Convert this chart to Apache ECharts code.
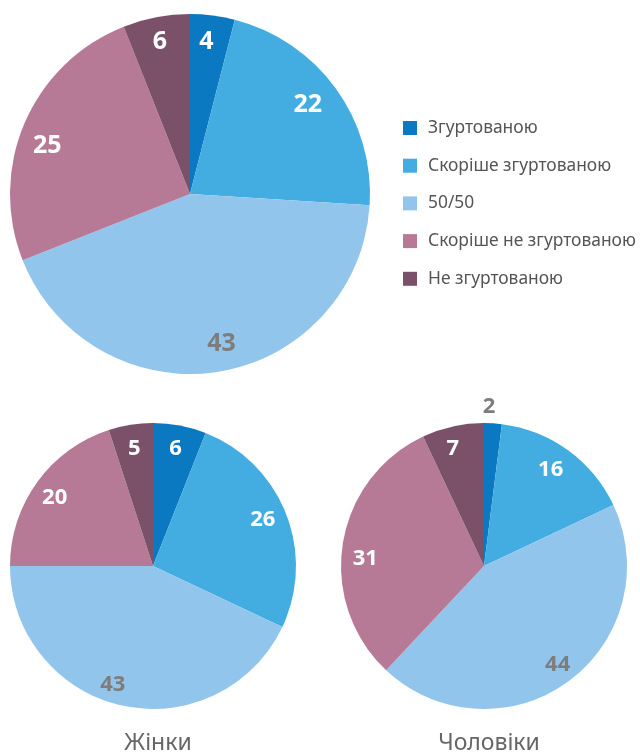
<!DOCTYPE html>
<html><head><meta charset="utf-8">
<script src="https://cdn.jsdelivr.net/npm/echarts@6/dist/echarts.min.js"></script>
<style>html,body{margin:0;padding:0;background:#fff}#c{width:640px;height:753px}</style>
</head><body><div id="c"></div>
<script>
const categories = ['Згуртованою', 'Скоріше згуртованою', '50/50', 'Скоріше не згуртованою', 'Не згуртованою'];
const totalValues = [4, 22, 43, 25, 6];
const womenValues = [6, 26, 43, 20, 5];
const menValues = [2, 16, 44, 31, 7];
const pieTitles = ['', 'Жінки', 'Чоловіки'];

const colors = ['#0a79c1', '#43ade2', '#92c5eb', '#b67a97', '#7b5069'];
const FONT = 'Noto Sans';
const GRAY = '#7d7d7d';

// label nudges (pixels) relative to the slice's mid-angle point at 0.82 r
const pies = [
  { values: totalValues, center: [190, 194], r: 180, fontSize: 25,
    nudge: [[-2.5, -3], [-4, -0.5], [8, 1.5], [-4.5, 12], [-2, -4.5]],
    gray: [false, false, true, false, false] },
  { values: womenValues, center: [153, 566], r: 143, fontSize: 22,
    nudge: [[0, 0.5], [-2, -1.5], [-14, 1], [-1, 2.5], [0, 1.5]],
    gray: [false, false, true, false, false] },
  { values: menValues, center: [484, 566], r: 143, fontSize: 22,
    nudge: [[-2.4, -39.5], [-4, 1.5], [3, 1], [0, 11.5], [-5, 0]],
    gray: [true, false, true, false, false] }
];

const series = [];
pies.forEach(p => {
  series.push({
    type: 'pie', center: p.center, radius: [0, p.r], silent: true,
    startAngle: 90, clockwise: true, animation: false,
    label: { show: false }, labelLine: { show: false },
    emphasis: { disabled: true },
    data: p.values.map((v, i) => ({ name: categories[i], value: v, itemStyle: { color: colors[i] } }))
  });
});
pies.forEach(p => {
  const mid = 0.82 * p.r;
  series.push({
    type: 'pie', center: p.center, radius: [mid - 6, mid + 6], silent: true,
    startAngle: 90, clockwise: true, animation: false, z: 5,
    legendHoverLink: false,
    emphasis: { disabled: true },
    labelLine: { show: false },
    label: { show: true, position: 'inside', fontFamily: FONT, fontWeight: 'bold', fontSize: p.fontSize },
    labelLayout: params => ({ dx: p.nudge[params.dataIndex][0], dy: p.nudge[params.dataIndex][1] }),
    data: p.values.map((v, i) => ({
      name: categories[i], value: v,
      itemStyle: { color: 'rgba(0,0,0,0)' },
      label: { formatter: String(v), color: p.gray[i] ? GRAY : '#ffffff' }
    }))
  });
});

const chart = echarts.init(document.getElementById('c'), null, { renderer: 'canvas' });
chart.setOption({
  animation: false,
  color: colors,
  title: [
    { text: pieTitles[1], left: 153, top: 727, textAlign: 'center',
      textStyle: { fontFamily: FONT, fontWeight: 'normal', fontSize: 23, color: '#666666' } },
    { text: pieTitles[2], left: 484, top: 727, textAlign: 'center',
      textStyle: { fontFamily: FONT, fontWeight: 'normal', fontSize: 23, color: '#666666' } }
  ],
  legend: {
    data: categories, orient: 'vertical', left: 398, top: 113,
    icon: 'rect', itemWidth: 14, itemHeight: 14, itemGap: 17.7,
    selectedMode: false,
    textStyle: { fontFamily: FONT, fontSize: 17.4, color: '#555555', lineHeight: 20, padding: [0, 0, 0, 6] }
  },
  series: series
});
</script></body></html>
